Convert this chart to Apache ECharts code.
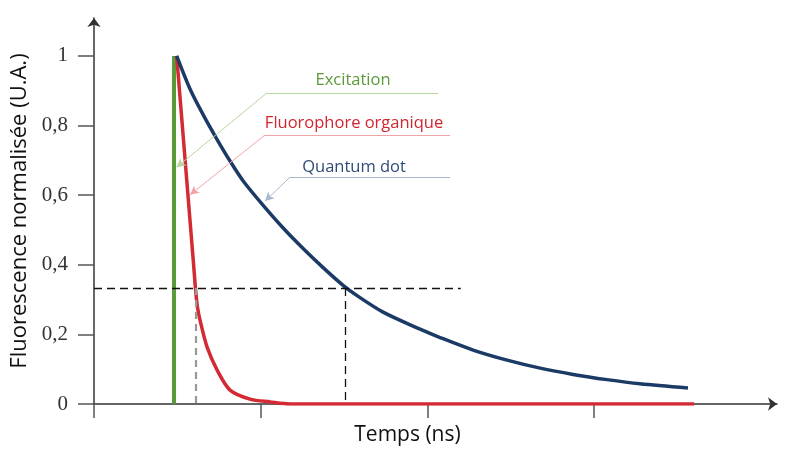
<!DOCTYPE html>
<html><head><meta charset="utf-8">
<script src="https://cdn.jsdelivr.net/npm/echarts@6/dist/echarts.min.js"></script>
<style>html,body{margin:0;padding:0;background:#fff}#c{width:786px;height:450px}</style>
</head><body><div id="c"></div>
<script>
// ---- data ----
const xTicks = [0, 1, 2, 3];
const yTicks = [0, 0.2, 0.4, 0.6, 0.8, 1];
const excitationX = [0.48, 0.48];
const excitationY = [0, 1];
const quantumX = [0.496, 0.576, 0.656, 0.736, 0.816, 0.896, 1.016, 1.136, 1.256, 1.376, 1.496, 1.576, 1.734, 1.956, 2.076, 2.274, 2.478, 2.676, 2.874, 3.077, 3.275, 3.563];
const quantumY = [1.0, 0.905, 0.830, 0.762, 0.698, 0.640, 0.570, 0.505, 0.446, 0.391, 0.340, 0.312, 0.264, 0.215, 0.191, 0.155, 0.126, 0.103, 0.085, 0.070, 0.058, 0.046];
const organicX = [0.496, 0.536, 0.566, 0.586, 0.600, 0.609, 0.620, 0.636, 0.678, 0.738, 0.816, 0.936, 1.056, 1.176, 3.6];
const organicY = [1.0, 0.763, 0.586, 0.468, 0.385, 0.330, 0.280, 0.241, 0.164, 0.098, 0.040, 0.014, 0.006, 0, 0];
const thirdLevel = 0.333;
const quantumCross = 1.506;
const organicCross = 0.612;
const guideEnd = 2.2;
const labels = ['Excitation', 'Fluorophore organique', 'Quantum dot'];

// annotation anchors (data units): text centre, leader start, bend, arrow tip
const annoText = [[1.554, 0.931], [1.560, 0.807], [1.560, 0.681]];
const annoStart = [[2.064, 0.894], [2.136, 0.773], [2.136, 0.652]];
const annoBend = [[1.038, 0.894], [1.026, 0.773], [1.176, 0.652]];
const annoTip = [[0.495, 0.680], [0.576, 0.601], [1.026, 0.583]];

const green = '#5b9a3b', red = '#d32a33', navy = '#1b3a66';
const lightCols = ['#b5d6a0', '#f0a4a8', '#a9b8cf'];
const textCols = [green, '#d0262f', '#2f4b78'];

const zip = (a, b) => a.map((v, i) => [v, b[i]]);

function annot(i) {
  return {
    markLine: {
      silent: true, animation: false,
      symbol: ['none', 'none'],
      label: { show: false },
      lineStyle: { color: lightCols[i], width: 1, type: 'solid' },
      data: [
        [{ coord: annoStart[i] }, { coord: annoBend[i] }],
        [{ coord: annoBend[i] }, { coord: annoTip[i], symbol: 'arrow', symbolSize: [7, 9] }]
      ]
    },
    markPoint: {
      silent: true, animation: false,
      symbol: 'circle', symbolSize: 1,
      itemStyle: { color: 'rgba(0,0,0,0)' },
      data: [{ coord: annoText[i], label: { show: true, position: 'inside', formatter: labels[i], color: textCols[i], fontSize: 16.5, fontFamily: 'Open Sans', textBorderWidth: 0 } }]
    }
  };
}

const chart = echarts.init(document.getElementById('c'), null, { renderer: 'canvas' });
const fmt = v => String(v).replace('.', ',');

chart.setOption({
  animation: false,
  backgroundColor: '#fff',
  grid: { left: 94, right: 9, top: 18, bottom: 46, containLabel: false, outerBoundsMode: 'none' },
  xAxis: {
    type: 'value', min: 0, max: 4.097,
    name: 'Temps (ns)', nameLocation: 'middle', nameGap: 21,
    nameTextStyle: { fontFamily: 'Open Sans', fontSize: 21, color: '#111', padding: [0, 56, 0, 0] },
    axisLine: { show: true, onZero: false, symbol: ['none', 'arrow'], symbolSize: [10, 9], lineStyle: { color: '#333', width: 1.5 } },
    axisTick: { show: true, length: 14, customValues: xTicks, lineStyle: { color: '#555', width: 1.5 } },
    axisLabel: { show: false },
    splitLine: { show: false }
  },
  yAxis: {
    type: 'value', min: 0, max: 1.109,
    name: 'Fluorescence normalisée (U.A.)', nameLocation: 'middle', nameGap: 57, nameRotate: 90,
    nameTextStyle: { fontFamily: 'Open Sans', fontSize: 22, color: '#111' },
    axisLine: { show: true, onZero: false, symbol: ['none', 'arrow'], symbolSize: [10, 9], lineStyle: { color: '#333', width: 1.5 } },
    axisTick: { show: true, length: 16, customValues: yTicks, lineStyle: { color: '#555', width: 1.5 } },
    axisLabel: { show: true, customValues: yTicks, margin: 26, formatter: fmt, fontFamily: 'Liberation Serif', fontSize: 21, color: '#333' },
    splitLine: { show: false }
  },
  series: [
    Object.assign({
      name: labels[0], type: 'line', data: zip(excitationX, excitationY), showSymbol: false, z: 3,
      lineStyle: { color: green, width: 4 }, itemStyle: { color: green }
    }, annot(0)),
    Object.assign({
      name: labels[1], type: 'line', data: zip(organicX, organicY), showSymbol: false, z: 4,
      smooth: 0.3,
      lineStyle: { color: red, width: 3.5 }, itemStyle: { color: red }
    }, annot(1)),
    Object.assign({
      name: labels[2], type: 'line', data: zip(quantumX, quantumY), showSymbol: false, z: 4,
      smooth: 0.3,
      lineStyle: { color: navy, width: 3.5 }, itemStyle: { color: navy }
    }, annot(2)),
    {
      name: 'guides', type: 'line', data: [], z: 2,
      markLine: {
        silent: true, animation: false, symbol: ['none', 'none'], label: { show: false },
        data: [
          [{ coord: [0, thirdLevel], lineStyle: { color: '#111', width: 1.3, type: [8, 5] } }, { coord: [guideEnd, thirdLevel] }],
          [{ coord: [quantumCross, thirdLevel], lineStyle: { color: '#111', width: 1.3, type: [8, 5] } }, { coord: [quantumCross, 0] }],
          [{ coord: [organicCross, thirdLevel], lineStyle: { color: '#999', width: 2.2, type: [7, 5] } }, { coord: [organicCross, 0] }]
        ]
      }
    }
  ]
});
</script></body></html>
